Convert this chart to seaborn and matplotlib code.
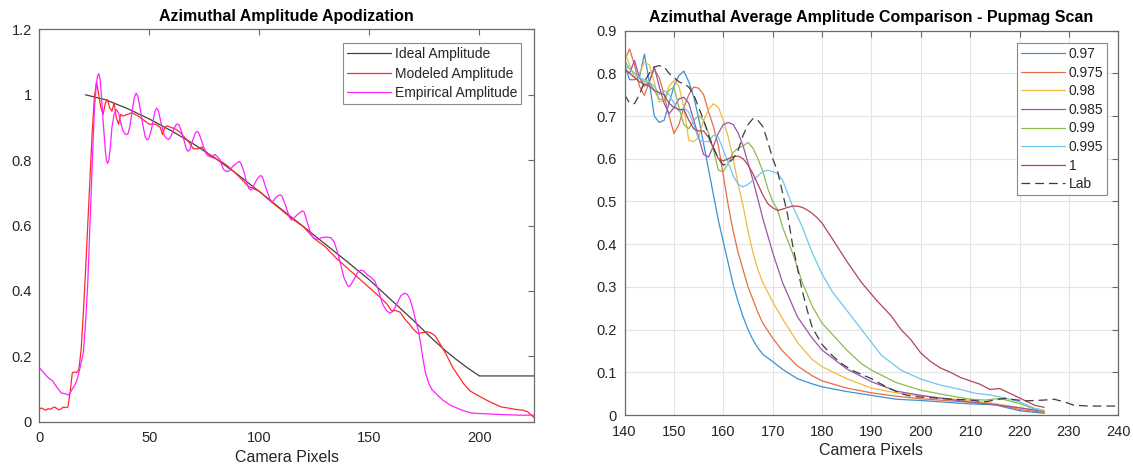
import numpy as np
import matplotlib
matplotlib.use("Agg")
import matplotlib.pyplot as plt
import seaborn as sns
from matplotlib.ticker import FuncFormatter

# ---------------------------------------------------------------
# Left panel: azimuthal amplitude apodization
# ---------------------------------------------------------------
ideal_x = [21, 30, 40, 50, 60, 70, 80, 90, 100, 110, 120, 130, 140, 150,
           160, 170, 175, 180, 185, 190, 195, 200, 225]
ideal_y = [1.0, 0.985, 0.958, 0.926, 0.89, 0.85, 0.806, 0.757, 0.704, 0.65,
           0.597, 0.543, 0.489, 0.434, 0.372, 0.31, 0.277, 0.245, 0.215,
           0.188, 0.163, 0.14, 0.14]

model_x = [0, 1, 2, 3, 4, 5, 6, 7, 8, 9, 10, 11, 12, 13, 14, 15, 16, 17, 18,
           19, 20, 21, 22, 23, 24, 25, 26, 27, 28, 29, 30, 31, 32, 33, 34, 35,
           36, 37, 38, 40, 42, 45, 48, 50, 53, 55, 56, 57, 58, 60, 62, 64, 66,
           68, 70, 72, 74, 76, 78, 80, 83, 86, 90, 95, 100, 105, 110, 115, 120,
           125, 130, 135, 140, 145, 150, 155, 158, 160, 162, 164, 166, 168, 170,
           172, 174, 176, 178, 180, 182, 185, 188, 190, 193, 196, 200, 205,
           210, 213, 216, 220, 222, 225]
model_y = [0.038, 0.042, 0.038, 0.035, 0.04, 0.038, 0.042, 0.045, 0.04, 0.036,
           0.04, 0.045, 0.043, 0.045, 0.09, 0.15, 0.152, 0.15, 0.16, 0.22, 0.33,
           0.46, 0.6, 0.74, 0.88, 0.99, 1.04, 1.0, 0.96, 0.94, 0.975, 0.985,
           0.96, 0.95, 0.975, 0.93, 0.91, 0.94, 0.935, 0.94, 0.945, 0.935, 0.92,
           0.91, 0.91, 0.9, 0.878, 0.9, 0.905, 0.9, 0.895, 0.885, 0.87, 0.855,
           0.835, 0.835, 0.84, 0.825, 0.81, 0.805, 0.795, 0.78, 0.755, 0.72,
           0.705, 0.675, 0.648, 0.62, 0.597, 0.56, 0.535, 0.5, 0.47, 0.44, 0.41,
           0.38, 0.36, 0.34, 0.34, 0.335, 0.315, 0.3, 0.283, 0.27, 0.272, 0.275,
           0.272, 0.262, 0.24, 0.205, 0.165, 0.145, 0.115, 0.093, 0.078, 0.06,
           0.045, 0.042, 0.038, 0.035, 0.03, 0.012]

emp_x = [0, 2, 4, 6, 8, 10, 12, 13, 14, 15, 16, 17, 18, 19, 20, 21, 22, 23,
         24, 25, 26, 26.5, 27, 27.6, 28.2, 29, 30, 30.5, 31, 31.6, 32.3, 33,
         34, 35, 36, 37, 38, 39, 39.7, 40.4, 41.2, 42.2, 43.2, 44, 44.8, 45.8,
         47, 48.2, 49, 49.8, 51, 52.5, 53.3, 54.1, 55.3, 56.8, 57.9, 58.7,
         59.5, 60.8, 62, 62.8, 63.6, 65, 66.8, 67.6, 68.4, 69.8, 70.9, 71.7,
         72.5, 74, 75.6, 76.5, 77.4, 78.3, 80, 82, 83.6, 84.6, 85.5, 86.4, 88,
         90, 90.8, 91.6, 93, 94.2, 95.2, 96, 96.8, 98.2, 99.8, 100.6, 101.4,
         103, 105, 105.8, 106.6, 107.8, 108.7, 109.5, 110.3, 112, 113.9, 114.7,
         115.5, 117.2, 118.8, 119.6, 120.4, 122, 123.6, 125, 126.5, 128.4,
         130.5, 132.5, 134, 135.5, 137, 138.5, 140, 140.7, 141.5, 143, 144.8,
         146.3, 147.6, 149, 151, 152.5, 154, 156, 157.8, 159.3, 160.8, 162.5,
         164.3, 165.8, 167.2, 168.5, 170, 171.2, 172.3, 173.3, 174.3, 175.5,
         177, 178.5, 180, 183.4, 187, 191.8, 196, 200, 210, 218, 225]
emp_y = [0.165, 0.15, 0.135, 0.125, 0.105, 0.088, 0.085, 0.082, 0.088, 0.1,
         0.11, 0.125, 0.15, 0.18, 0.21, 0.3, 0.42, 0.6, 0.78, 0.95, 1.04,
         1.058, 1.065, 1.05, 1.0, 0.92, 0.83, 0.8, 0.79, 0.8, 0.84, 0.9, 0.94,
         0.955, 0.945, 0.915, 0.89, 0.88, 0.878, 0.882, 0.905, 0.95, 0.993,
         1.005, 0.995, 0.96, 0.91, 0.87, 0.862, 0.866, 0.895, 0.948, 0.959,
         0.952, 0.915, 0.875, 0.866, 0.864, 0.868, 0.89, 0.907, 0.911, 0.907,
         0.88, 0.835, 0.827, 0.832, 0.862, 0.883, 0.888, 0.883, 0.855, 0.822,
         0.814, 0.811, 0.813, 0.817, 0.803, 0.773, 0.767, 0.765, 0.768, 0.782,
         0.792, 0.796, 0.791, 0.765, 0.732, 0.714, 0.709, 0.713, 0.733, 0.749,
         0.753, 0.749, 0.715, 0.678, 0.673, 0.677, 0.688, 0.692, 0.694, 0.69,
         0.66, 0.622, 0.617, 0.621, 0.633, 0.641, 0.645, 0.641, 0.605, 0.571,
         0.56, 0.558, 0.563, 0.565, 0.563, 0.55, 0.52, 0.48, 0.44, 0.418,
         0.413, 0.418, 0.435, 0.458, 0.464, 0.46, 0.45, 0.44, 0.43, 0.405,
         0.36, 0.34, 0.332, 0.338, 0.36, 0.385, 0.393, 0.39, 0.375, 0.34,
         0.305, 0.28, 0.24, 0.195, 0.15, 0.117, 0.098, 0.088, 0.066, 0.05,
         0.036, 0.027, 0.025, 0.022, 0.02, 0.02]

# ---------------------------------------------------------------
# Right panel: pupmag scan
# ---------------------------------------------------------------
scan_labels = ["0.97", "0.975", "0.98", "0.985", "0.99", "0.995", "1", "Lab"]

s097_x = [140, 141, 142, 143, 144, 145, 146, 147, 148, 149, 150, 151, 152,
          153, 154, 155, 156, 157, 158, 159, 160, 161, 162, 163, 164, 165, 166,
          167, 168, 170, 172, 175, 178, 180, 185, 190, 195, 200, 205, 210, 215,
          220, 225]
s097_y = [0.82, 0.785, 0.785, 0.79, 0.845, 0.78, 0.7, 0.685, 0.69, 0.73, 0.77,
          0.795, 0.805, 0.78, 0.745, 0.695, 0.635, 0.575, 0.515, 0.455, 0.405,
          0.355, 0.305, 0.265, 0.23, 0.2, 0.176, 0.157, 0.142, 0.125, 0.107,
          0.085, 0.073, 0.066, 0.055, 0.046, 0.037, 0.034, 0.03, 0.026, 0.024,
          0.01, 0.004]

s0975_x = [140, 141, 142, 143, 144, 145, 146, 147, 148, 149, 150, 151, 152,
           153, 154, 155, 156, 157, 158, 159, 160, 161, 162, 163, 164, 165, 166,
           167, 168, 170, 172, 175, 178, 180, 185, 190, 195, 200, 205, 210, 215,
           220, 225]
s0975_y = [0.83, 0.857, 0.82, 0.77, 0.748, 0.78, 0.81, 0.79, 0.75, 0.7, 0.659,
           0.68, 0.72, 0.75, 0.768, 0.765, 0.75, 0.71, 0.675, 0.63, 0.56, 0.49,
           0.43, 0.38, 0.34, 0.3, 0.27, 0.24, 0.215, 0.18, 0.15, 0.115, 0.092,
           0.08, 0.063, 0.052, 0.044, 0.038, 0.034, 0.03, 0.026, 0.013, 0.006]

s098_x = [140, 141, 142, 143, 144, 145, 146, 147, 148, 149, 150, 151, 152,
          153, 154, 155, 156, 157, 158, 159, 160, 161, 162, 163, 164, 165, 166,
          167, 168, 170, 172, 175, 178, 180, 185, 190, 195, 200, 205, 210, 215,
          220, 225]
s098_y = [0.85, 0.82, 0.79, 0.8, 0.826, 0.82, 0.78, 0.733, 0.735, 0.77, 0.783,
          0.77, 0.72, 0.643, 0.64, 0.65, 0.69, 0.715, 0.729, 0.72, 0.69, 0.65,
          0.6, 0.54, 0.49, 0.43, 0.38, 0.34, 0.31, 0.265, 0.225, 0.17, 0.13,
          0.113, 0.085, 0.063, 0.052, 0.045, 0.039, 0.034, 0.027, 0.017, 0.008]

s0985_x = [140, 141, 142, 143, 144, 145, 146, 147, 148, 149, 150, 151, 152,
           153, 154, 155, 156, 157, 158, 159, 160, 161, 162, 163, 164, 165, 166,
           167, 168, 170, 172, 175, 178, 180, 185, 190, 195, 200, 205, 210, 215,
           220, 225]
s0985_y = [0.81, 0.8, 0.83, 0.79, 0.77, 0.78, 0.815, 0.77, 0.73, 0.705, 0.72,
           0.74, 0.744, 0.73, 0.69, 0.65, 0.61, 0.604, 0.63, 0.66, 0.68, 0.685,
           0.68, 0.66, 0.63, 0.59, 0.55, 0.505, 0.46, 0.38, 0.31, 0.23, 0.18,
           0.152, 0.108, 0.078, 0.056, 0.046, 0.038, 0.03, 0.024, 0.017, 0.008]

s099_x = [140, 141, 142, 143, 144, 145, 146, 147, 148, 149, 150, 151, 152,
          153, 154, 155, 156, 157, 158, 159, 160, 161, 162, 163, 164, 165, 166,
          167, 168, 169, 170, 171, 172, 173, 174, 175, 176, 178, 180, 182, 185,
          188, 190, 195, 200, 205, 210, 213, 216, 218, 220, 223, 225]
s099_y = [0.83, 0.81, 0.8, 0.79, 0.78, 0.78, 0.76, 0.74, 0.737, 0.76, 0.768,
          0.72, 0.68, 0.67, 0.69, 0.701, 0.69, 0.66, 0.62, 0.573, 0.57, 0.59,
          0.615, 0.625, 0.63, 0.638, 0.625, 0.6, 0.57, 0.53, 0.5, 0.48, 0.44,
          0.41, 0.38, 0.345, 0.31, 0.255, 0.215, 0.19, 0.152, 0.12, 0.105,
          0.076, 0.058, 0.047, 0.037, 0.035, 0.039, 0.033, 0.027, 0.014, 0.009]

s0995_x = [140, 141, 142, 143, 144, 145, 146, 147, 148, 149, 150, 151, 152,
           153, 154, 155, 156, 157, 158, 159, 160, 161, 162, 163, 164, 165, 166,
           167, 168, 169, 170, 171, 172, 173, 174, 175, 176, 178, 180, 182, 185,
           188, 190, 192, 196, 200, 204, 208, 211, 214, 217, 220, 223, 225]
s0995_y = [0.82, 0.81, 0.8, 0.79, 0.785, 0.78, 0.77, 0.75, 0.76, 0.75, 0.73,
           0.71, 0.72, 0.709, 0.68, 0.645, 0.64, 0.64, 0.655, 0.65, 0.62, 0.59,
           0.56, 0.54, 0.534, 0.54, 0.55, 0.56, 0.57, 0.573, 0.57, 0.565, 0.55,
           0.52, 0.49, 0.465, 0.44, 0.38, 0.33, 0.29, 0.245, 0.2, 0.17, 0.14,
           0.105, 0.084, 0.07, 0.06, 0.051, 0.047, 0.04, 0.031, 0.016, 0.011]

s1_x = [140, 141, 142, 143, 144, 145, 146, 147, 148, 149, 150, 151, 152, 153,
        154, 155, 156, 157, 158, 159, 160, 161, 162, 163, 164, 165, 166, 167,
        168, 169, 170, 171, 172, 173, 174, 175, 176, 177, 178, 179, 180, 182,
        185, 188, 191, 194, 196, 198, 200, 202, 204, 206, 208, 210, 212, 214,
        216, 218, 220, 223, 225]
s1_y = [0.81, 0.8, 0.79, 0.78, 0.775, 0.77, 0.76, 0.755, 0.75, 0.73, 0.72,
        0.715, 0.715, 0.69, 0.67, 0.665, 0.665, 0.65, 0.625, 0.6, 0.595, 0.6,
        0.605, 0.606, 0.6, 0.585, 0.565, 0.54, 0.515, 0.495, 0.485, 0.479,
        0.482, 0.486, 0.489, 0.489, 0.486, 0.48, 0.472, 0.462, 0.449, 0.414,
        0.36, 0.31, 0.269, 0.232, 0.2, 0.176, 0.145, 0.125, 0.11, 0.1, 0.088,
        0.08, 0.072, 0.06, 0.062, 0.051, 0.04, 0.023, 0.018]

lab_x = [140, 141, 142, 143, 144, 145, 146, 147, 148, 149, 150, 151, 152, 153,
         154, 155, 156, 157, 158, 159, 160, 161, 162, 163, 164, 165, 166, 167,
         168, 169, 170, 171, 172, 173, 174, 175, 176, 177, 178, 179, 180, 182,
         184, 186, 188, 190, 193, 196, 198, 200, 205, 210, 213, 217, 221, 225,
         227, 229, 231, 234, 240]
lab_y = [0.75, 0.73, 0.729, 0.75, 0.78, 0.8, 0.815, 0.818, 0.815, 0.8, 0.79,
         0.78, 0.775, 0.768, 0.75, 0.72, 0.69, 0.655, 0.625, 0.6, 0.585, 0.59,
         0.6, 0.62, 0.655, 0.68, 0.694, 0.69, 0.675, 0.64, 0.6, 0.57, 0.52,
         0.47, 0.4, 0.345, 0.29, 0.245, 0.205, 0.185, 0.165, 0.14, 0.12, 0.105,
         0.095, 0.085, 0.066, 0.05, 0.044, 0.042, 0.038, 0.035, 0.031, 0.039,
         0.033, 0.035, 0.037, 0.031, 0.023, 0.021, 0.021]

scan_colors = ["#3a93d4", "#e36f45", "#f0bb3c", "#9a55a8", "#8cbb4e",
               "#6cc8f0", "#b54358", "#3c3c3c"]

# ---------------------------------------------------------------
# Styling
# ---------------------------------------------------------------
sns.set_theme(style="white")
plt.rcParams["font.family"] = ["Liberation Sans", "DejaVu Sans"]
plt.rcParams["axes.edgecolor"] = "#6a6a6a"
plt.rcParams["axes.linewidth"] = 0.9
plt.rcParams["xtick.color"] = "#6a6a6a"
plt.rcParams["ytick.color"] = "#6a6a6a"
plt.rcParams["xtick.labelcolor"] = "#262626"
plt.rcParams["ytick.labelcolor"] = "#262626"

fig = plt.figure(figsize=(11.33, 4.67), dpi=100)
ax1 = fig.add_axes([0.0347, 0.097, 0.4369, 0.840])
ax2 = fig.add_axes([0.5513, 0.1113, 0.4357, 0.8232])

fmt = FuncFormatter(lambda v, p: f"{v:g}")


def style_axes(ax):
    ax.tick_params(direction="in", length=4, width=0.8, top=True, right=True,
                   labelsize=10.5)
    ax.tick_params(axis="x", pad=7)
    ax.tick_params(axis="y", pad=5.5)
    ax.xaxis.set_major_formatter(fmt)
    ax.yaxis.set_major_formatter(fmt)
    for s in ax.spines.values():
        s.set_visible(True)


def make_legend(ax, anchor, spacing):
    leg = ax.legend(loc="upper right", fontsize=10, frameon=True,
                    fancybox=False, framealpha=1, edgecolor="#8a8a8a",
                    handlelength=3.2, handletextpad=0.25, borderpad=0.3,
                    labelspacing=spacing, borderaxespad=0,
                    bbox_to_anchor=anchor)
    leg.get_frame().set_linewidth(0.8)
    return leg


# left
sns.lineplot(x=ideal_x, y=ideal_y, ax=ax1, color="#404040", linewidth=0.9,
             label="Ideal Amplitude")
sns.lineplot(x=model_x, y=model_y, ax=ax1, color="#ff2a2a", linewidth=0.9,
             label="Modeled Amplitude")
sns.lineplot(x=emp_x, y=emp_y, ax=ax1, color="#ff22ff", linewidth=0.9,
             label="Empirical Amplitude")
ax1.set_xlim(0, 225)
ax1.set_ylim(0, 1.2)
ax1.set_xticks([0, 50, 100, 150, 200])
ax1.set_yticks([0, 0.2, 0.4, 0.6, 0.8, 1.0, 1.2])
style_axes(ax1)
ax1.set_xlabel("Camera Pixels", fontsize=11.5, color="#262626", labelpad=3)
ax1.set_ylabel("")
ax1.set_title("Azimuthal Amplitude Apodization", fontsize=11.5,
              fontweight="bold", color="black", pad=6)
make_legend(ax1, (0.974, 0.965), 0.38)

# right
series = [(s097_x, s097_y), (s0975_x, s0975_y), (s098_x, s098_y),
          (s0985_x, s0985_y), (s099_x, s099_y), (s0995_x, s0995_y),
          (s1_x, s1_y), (lab_x, lab_y)]
for (sx, sy), lab, col in zip(series, scan_labels, scan_colors):
    if lab == "Lab":
        sns.lineplot(x=sx, y=sy, ax=ax2, color=col, linewidth=0.9, label=lab,
                     linestyle=(0, (7, 4)))
    else:
        sns.lineplot(x=sx, y=sy, ax=ax2, color=col, linewidth=0.9, label=lab)
ax2.set_xlim(140, 240)
ax2.set_ylim(0, 0.9)
ax2.set_xticks(np.arange(140, 241, 10))
ax2.set_yticks(np.arange(0, 0.91, 0.1))
ax2.grid(True, color="#e3e3e3", linewidth=0.8)
ax2.set_axisbelow(True)
style_axes(ax2)
ax2.set_xlabel("Camera Pixels", fontsize=11.5, color="#262626", labelpad=3)
ax2.set_ylabel("")
ax2.set_title("Azimuthal Average Amplitude Comparison - Pupmag Scan",
              fontsize=11.5, fontweight="bold", color="black", pad=6)
make_legend(ax2, (0.978, 0.968), 0.33)

fig.savefig("out.png", dpi=100)
